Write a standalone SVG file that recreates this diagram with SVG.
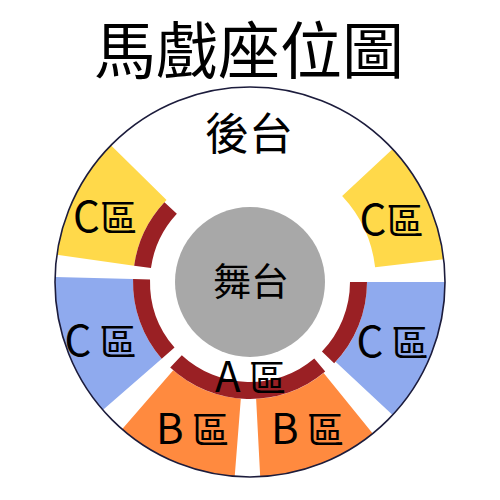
<svg xmlns="http://www.w3.org/2000/svg" width="500" height="500" viewBox="0 0 500 500">
<style>
text{font-family:"Noto Sans CJK TC","Noto Sans CJK SC",sans-serif;fill:#000;text-anchor:middle}
.lbl{font-size:37px}
.lat{font-size:42px}
.yel{fill:#FFD94A}
.blu{fill:#8FAAEE}
.org{fill:#FF8A3F}
.red{fill:#9A2024}
</style>
<rect x="0" y="0" width="500" height="500" fill="#fff"/>
<text x="249" y="74" style="font-size:62px">馬戲座位圖</text>
<circle cx="250" cy="282" r="195" fill="#fff"/>
<g id="zone-c-upper-left">
<path class="yel" d="M 110.91 145.32 A 195 195 0 0 0 56.89 254.86 L 134.13 265.71 A 117 117 0 0 1 166.54 199.99 Z"/>
<path class="red" d="M 164.43 202.21 A 117 117 0 0 0 134.13 265.71 L 150.97 268.08 A 100 100 0 0 1 176.86 213.80 Z"/>
<text class="lbl" x="105" y="232"><tspan class="lat">C</tspan>區</text>
</g>
<g id="zone-c-lower-left">
<path class="blu" d="M 55.07 276.89 A 195 195 0 0 0 102.83 409.94 L 161.70 358.76 A 117 117 0 0 1 133.04 278.94 Z"/>
<path class="red" d="M 133.04 278.94 A 117 117 0 0 0 161.70 358.76 L 174.53 347.61 A 100 100 0 0 1 150.03 279.38 Z"/>
<text class="lbl" x="100.5" y="356"><tspan class="lat">C</tspan> 區</text>
</g>
<g id="zone-b-left">
<path class="org" d="M 122.06 429.17 A 195 195 0 0 0 234.70 476.40 L 240.82 398.64 A 117 117 0 0 1 173.24 370.30 Z"/>
<text class="lbl" x="192.5" y="444"><tspan class="lat">B</tspan> 區</text>
</g>
<g id="zone-b-right">
<path class="org" d="M 260.21 476.73 A 195 195 0 0 0 372.71 433.53 L 323.63 372.92 A 117 117 0 0 1 256.12 398.84 Z"/>
<text class="lbl" x="307.5" y="444"><tspan class="lat">B</tspan> 區</text>
</g>
<g id="zone-c-lower-right">
<path class="blu" d="M 392.62 414.99 A 195 195 0 0 0 445 282 L 367 282 A 117 117 0 0 1 335.57 361.79 Z"/>
<path class="red" d="M 334.16 363.28 A 117 117 0 0 0 367 282 L 350 282 A 100 100 0 0 1 321.93 351.47 Z"/>
<text class="lbl" x="392.5" y="357"><tspan class="lat">C</tspan> 區</text>
</g>
<g id="zone-c-upper-right">
<path class="yel" d="M 443.67 259.25 A 195 195 0 0 0 392.62 149.01 L 342.16 196.07 A 126 126 0 0 1 375.14 267.30 Z"/>
<text class="lbl" x="391.5" y="235"><tspan class="lat">C</tspan>區</text>
</g>
<g id="zone-a">
<path class="red" d="M 170.21 367.57 A 117 117 0 0 0 325.21 371.62 L 314.28 358.60 A 100 100 0 0 1 181.80 355.14 Z"/>
<text class="lbl" x="250.5" y="392"><tspan class="lat">A</tspan> 區</text>
</g>
<g id="stage">
<circle cx="250" cy="282" r="75" fill="#A8A8A8"/>
<text x="251" y="295" style="font-size:38px">舞台</text>
</g>
<g id="backstage">
<text x="249" y="150" style="font-size:44px">後台</text>
</g>
<circle cx="250" cy="282" r="195" fill="none" stroke="#1c1c3c" stroke-width="1.6"/>
</svg>
